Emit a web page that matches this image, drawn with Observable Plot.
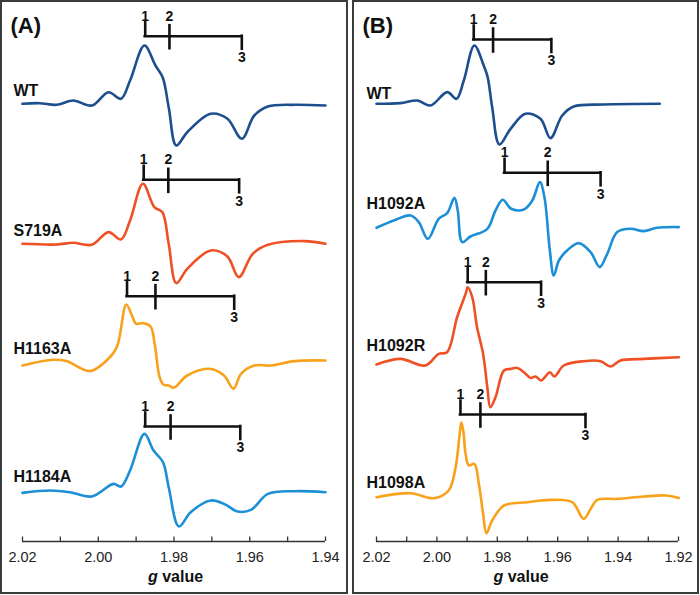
<!DOCTYPE html>
<html><head><meta charset="utf-8">
<script src="https://cdn.jsdelivr.net/npm/d3@7"></script>
<script src="https://cdn.jsdelivr.net/npm/@observablehq/plot@0.6"></script>
<style>
body{margin:0;background:#fff;font-family:Arial,"Liberation Sans",sans-serif;}
#wrap{position:relative;width:700px;height:595px;overflow:hidden;}
.panel{position:absolute;top:0;width:350px;height:595px;}
.box{position:absolute;top:0;height:594px;border:2.5px solid #3c3c3c;box-sizing:border-box;pointer-events:none;}
</style></head><body>
<div id="wrap">
 <div id="pa" class="panel" style="left:0"></div>
 <div id="pb" class="panel" style="left:350px"></div>
 <div class="box" style="left:0;width:348px"></div>
 <div class="box" style="left:352px;width:347px"></div>
</div>
<script>
// ---------- Panel (A) data ----------
const samplesA = ["WT", "S719A", "H1163A", "H1184A"];
const gA_WT = [2.020, 2.0155, 2.0110, 2.0066, 2.0017, 1.9973, 1.9940, 1.9916, 1.9878, 1.9849, 1.9830, 1.9814, 1.9794, 1.9765, 1.9703, 1.9659, 1.9621, 1.9588, 1.9552, 1.9482, 1.940];
const iA_WT = [0, 0.6, -1, 3.3, -1.7, 11.6, 5, 23.3, 58.3, 38.3, 26.6, -3.4, -41.7, -28.4, -10, -15, -35, -11.7, -2.7, -1, -1.7];
const gA_S719A = [2.020, 2.0110, 2.0066, 2.0017, 1.9973, 1.9940, 1.9916, 1.9882, 1.9852, 1.9831, 1.9814, 1.9794, 1.9765, 1.9703, 1.9659, 1.9629, 1.9592, 1.9552, 1.9455, 1.940];
const iA_S719A = [0, -0.7, 1, -1, 11.7, 4.3, 23.3, 60, 36.7, 31.7, 0, -39.3, -25, -6.7, -12.7, -33.3, -10, -1, 2.7, 0];
const gA_H1163A = [2.020, 2.0119, 2.0084, 2.0022, 1.9978, 1.9951, 1.9926, 1.9911, 1.9900, 1.9882, 1.9862, 1.9851, 1.9838, 1.9827, 1.9814, 1.9801, 1.9765, 1.9708, 1.9668, 1.9643, 1.9623, 1.9588, 1.9544, 1.9482, 1.940];
const iA_H1163A = [-1.7, 4, 2.7, -7.3, 3.3, 16.7, 59.3, 48.3, 40, 40.7, 37.3, 20, -13.3, -21, -21.7, -24, -11.7, -5, -11.7, -25, -10, -1.7, -1.7, 2.7, 3.3];
const gA_H1184A = [2.020, 2.0128, 2.0075, 2.0017, 1.9960, 1.9940, 1.9916, 1.9878, 1.9854, 1.9829, 1.9814, 1.9787, 1.9756, 1.9703, 1.9668, 1.9632, 1.9597, 1.9552, 1.9482, 1.940];
const iA_H1184A = [-0.7, 1.7, 0, -4.3, 8.3, 5.7, 21.7, 58.3, 41.7, 30, 5, -34.3, -20, -8.3, -11.7, -19.3, -17.7, -1.7, 1, 0];
const offsetsA = [0, -140, -260, -388.4];           // vertical stacking (a.u.)
const sticksA = [[1.9876, 1.9812, 1.9621], [1.9880, 1.9815, 1.9628], [1.9924, 1.9849, 1.9641], [1.9876, 1.9809, 1.9625]];
const barA = [67.6, 64, 67.6, 65.7];                 // stick bar height above trace baseline
const nameLiftA = [13.3, 13.3, 15.3, 15];
const ticksA = [2.02, 2.01, 2.00, 1.99, 1.98, 1.97, 1.96, 1.95, 1.94];
const labelsA = [2.02, 2.00, 1.98, 1.96, 1.94];

// ---------- Panel (B) data ----------
const samplesB = ["WT", "H1092A", "H1092R", "H1098A"];
const gB_WT = [2.02, 2.0121, 2.0065, 2.0021, 1.9966, 1.9935, 1.9911, 1.9876, 1.9845, 1.9832, 1.9817, 1.9793, 1.9756, 1.9707, 1.9657, 1.9624, 1.9585, 1.9547, 1.9447, 1.9262];
const iB_WT = [0, 0.7, 3.3, -1.7, 11.7, 5, 23.3, 58.3, 38.3, 26.7, -3.3, -40.7, -25, -10, -15, -34.3, -11.7, -2.7, -0.7, 0];
const gB_H1092A = [2.0200, 2.0143, 2.0087, 2.0060, 2.0030, 1.9994, 1.9966, 1.9942, 1.9931, 1.9916, 1.9889, 1.9833, 1.9806, 1.9782, 1.9754, 1.9712, 1.9684, 1.9659, 1.9644, 1.9626, 1.9613, 1.9596, 1.9569, 1.9530, 1.9491, 1.9461, 1.9436, 1.9403, 1.9359, 1.9315, 1.9271, 1.9199];
const iB_H1092A = [-4, 3.3, 8.3, 1.7, -15, 5, 10.7, 26, 13.3, -18.3, -12.7, -5, 13.3, 24, 15, 14.3, 23.3, 41.7, 26.7, -26.7, -51.7, -36.7, -26.7, -19.3, -28.3, -43.3, -30, -8.3, -5, -7.3, -4, -3.3];
const gB_H1092R = [2.0200, 2.0121, 2.0038, 1.9994, 1.9966, 1.9933, 1.9905, 1.9898, 1.9883, 1.9867, 1.9847, 1.9833, 1.9823, 1.9806, 1.9778, 1.9756, 1.9734, 1.9712, 1.9690, 1.9673, 1.9655, 1.9626, 1.9611, 1.9580, 1.9514, 1.9458, 1.9425, 1.9392, 1.9315, 1.9199];
const iB_H1092R = [-2.3, 3.3, -3.3, 8.3, 10, 45, 68.3, 75, 65, 35, 8.3, -25, -45, -35, -8.3, -6.7, -5.7, -10, -15.7, -14.3, -18.3, -10, -14.3, -3.3, 1, 1, -4.3, 1.7, 3.3, 5];
const gB_H1098A = [2.0200, 2.0087, 2.0010, 1.9961, 1.9938, 1.9925, 1.9919, 1.9912, 1.9905, 1.9894, 1.9876, 1.9861, 1.9847, 1.9836, 1.9817, 1.9778, 1.9701, 1.9624, 1.9552, 1.9514, 1.9491, 1.9469, 1.9403, 1.9315, 1.9243, 1.9199];
const iB_H1098A = [0, 4, -1, 6.7, 30, 62, 75, 65, 43.3, 31.7, 33.3, 13.3, -16.7, -36, -23.3, -8.3, -5, -2.7, -5, -21.7, -11.7, -2.7, -1.7, 0.7, 1.7, -0.7];
const offsetsB = [0, -120, -258.4, -393.4];
const sticksB = [[1.9878, 1.9814, 1.9621], [1.9776, 1.9633, 1.9458], [1.9898, 1.9838, 1.9655], [1.9922, 1.9856, 1.9508]];
const barB = [64.3, 51, 80, 82.7];
const nameLiftB = [10.3, 20, 16.7, 14.4];
const ticksB = [2.02, 2.01, 2.00, 1.99, 1.98, 1.97, 1.96, 1.95, 1.94, 1.93, 1.92];
const labelsB = [2.02, 2.00, 1.98, 1.96, 1.94, 1.92];

// ---------- styles ----------
const NAVY = "#1d4e8e", RED = "#ef5024", ORANGE = "#f8a21c", SKY = "#1d8fd7";
const colorsA = [NAVY, RED, ORANGE, SKY];
const colorsB = [NAVY, SKY, RED, ORANGE];
const FONT = "Arial, 'Liberation Sans', sans-serif";
const Y_MIN = -437.7, Y_MAX = 103.3;

function makePanel(cfg) {
  const traces = cfg.gs.map((g, k) => g.map((gv, j) => ({g: gv, v: cfg.is[k][j] + cfg.offsets[k]})));
  const st = cfg.samples.map((s, k) => ({
    s, g1: cfg.sticks[k][0], g2: cfg.sticks[k][1], g3: cfg.sticks[k][2],
    bar: cfg.offsets[k] + cfg.bar[k], name: cfg.offsets[k] + cfg.lift[k]
  }));
  const stickStyle = {stroke: "#111", strokeWidth: 2.6, strokeLinecap: "square"};
  const lblStyle = {fontSize: 14, fontWeight: "bold", fill: "#111", lineAnchor: "middle"};
  const marks = [
    Plot.ruleY([Y_MIN], {stroke: "#333", strokeWidth: 1.3}),
    Plot.ruleX(cfg.ticks, {x: d => d, y1: Y_MIN, y2: Y_MIN + 4.5, stroke: "#333", strokeWidth: 1.3}),
    Plot.axisX({ticks: cfg.labels, tickSize: 0, tickPadding: 10.5, tickFormat: d => d.toFixed(2),
      fontSize: 14.5, fill: "#222", label: null}),
    ...traces.map((t, k) => Plot.line(t, {x: "g", y: "v", stroke: cfg.colors[k], strokeWidth: 2.6, curve: "catmull-rom"})),
    Plot.ruleY(st, {y: "bar", x1: "g1", x2: "g3", ...stickStyle}),
    Plot.ruleX(st, {x: "g1", y1: "bar", y2: d => d.bar + 13.5, ...stickStyle}),
    Plot.ruleX(st, {x: "g2", y1: d => d.bar - 12.5, y2: d => d.bar + 10.5, ...stickStyle}),
    Plot.ruleX(st, {x: "g3", y1: d => d.bar - 13, y2: "bar", ...stickStyle}),
    Plot.text(st, {x: "g1", y: d => d.bar + 20, text: () => "1", ...lblStyle}),
    Plot.text(st, {x: "g2", y: d => d.bar + 20, text: () => "2", ...lblStyle}),
    Plot.text(st, {x: "g3", y: d => d.bar - 21.5, text: () => "3", ...lblStyle}),
    Plot.text(st, {y: "name", text: "s", frameAnchor: "left", dx: cfg.nameDx, textAnchor: "start",
      fontSize: 16, fontWeight: "bold", fill: "#111", lineAnchor: "middle"}),
    Plot.text([cfg.tag], {text: d => d, frameAnchor: "top-left", dx: cfg.tagDx, dy: 25, textAnchor: "start",
      lineAnchor: "middle", fontSize: 22, fontWeight: "bold", fill: "#111"})
  ];
  const svg = Plot.plot({
    width: 350, height: 595,
    marginLeft: cfg.ml, marginRight: cfg.mr, marginTop: 0, marginBottom: 54,
    x: {domain: cfg.domain, label: null},
    y: {domain: [Y_MIN, Y_MAX], axis: null},
    style: {fontFamily: FONT, background: "transparent", overflow: "visible"},
    marks
  });
  const cx = (cfg.ml + 350 - cfg.mr) / 2 + cfg.gDx;
  const t = d3.select(svg).append("text")
    .attr("x", cx).attr("y", 582).attr("text-anchor", "middle")
    .attr("font-family", FONT).attr("font-size", 16).attr("font-weight", "bold").attr("fill", "#111");
  t.append("tspan").attr("font-style", "italic").text("g");
  t.append("tspan").text(" value");
  return svg;
}

document.getElementById("pa").appendChild(makePanel({
  samples: samplesA, gs: [gA_WT, gA_S719A, gA_H1163A, gA_H1184A], is: [iA_WT, iA_S719A, iA_H1163A, iA_H1184A],
  offsets: offsetsA, sticks: sticksA, bar: barA, lift: nameLiftA, ticks: ticksA, labels: labelsA,
  colors: colorsA, domain: [2.02, 1.94], ml: 22, mr: 25, nameDx: -9, tag: "(A)", tagDx: -12, gDx: 2
}));
document.getElementById("pb").appendChild(makePanel({
  samples: samplesB, gs: [gB_WT, gB_H1092A, gB_H1092R, gB_H1098A], is: [iB_WT, iB_H1092A, iB_H1092R, iB_H1098A],
  offsets: offsetsB, sticks: sticksB, bar: barB, lift: nameLiftB, ticks: ticksB, labels: labelsB,
  colors: colorsB, domain: [2.02, 1.92], ml: 26, mr: 22, nameDx: -10, tag: "(B)", tagDx: -14, gDx: -6
}));
</script>
</body></html>
